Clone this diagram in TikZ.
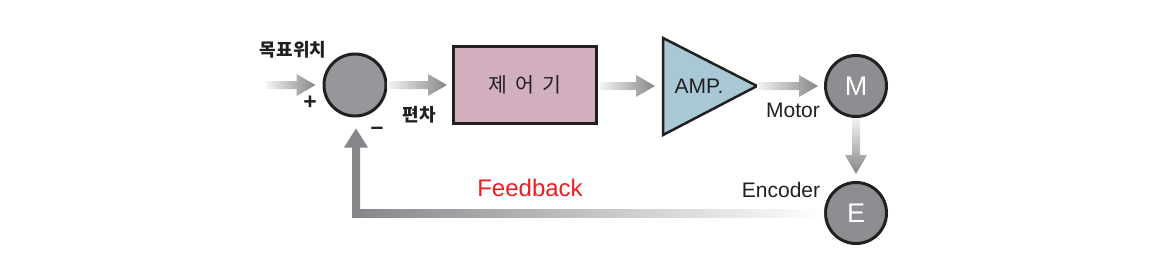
\documentclass[tikz,border=0pt]{standalone}
\usepackage{fontspec}
\setmainfont{Liberation Sans}
\newfontfamily\kr[WordSpace=1.8]{Noto Sans CJK KR}
\usetikzlibrary{calc}
\definecolor{textcol}{HTML}{231F20}
\definecolor{arrdark}{HTML}{86868A}
\definecolor{arrlight}{HTML}{F4F4F4}
\definecolor{sumfill}{HTML}{97979B}
\definecolor{mefill}{HTML}{8E8E92}
\definecolor{boxfill}{HTML}{D2AFBF}
\definecolor{ampfill}{HTML}{A7C8D4}
\definecolor{fbred}{HTML}{ED1C24}
\newcommand\harr[2]{%
  \shade[left color=arrlight,right color=arrdark] let \p1=(#1),\p2=(#2) in
  (\x1,\y1-4pt) -- (\x2-19pt,\y1-4pt) -- (\x2-19pt,\y1-11pt) -- (\x2,\y1)
  -- (\x2-19pt,\y1+11pt) -- (\x2-19pt,\y1+4pt) -- (\x1,\y1+4pt) -- cycle;}
\newcommand\varr[2]{%
  \shade[top color=arrlight,bottom color=arrdark] let \p1=(#1),\p2=(#2) in
  (\x1-4pt,\y1) -- (\x1-4pt,\y2+19pt) -- (\x1-11pt,\y2+19pt) -- (\x1,\y2)
  -- (\x1+11pt,\y2+19pt) -- (\x1+4pt,\y2+19pt) -- (\x1+4pt,\y1) -- cycle;}
\begin{document}
\begin{tikzpicture}[x=1pt,y=-1pt,
  every node/.style={text=textcol,inner sep=0pt},
  junction/.style={circle,draw=textcol,line width=3pt,fill=sumfill,minimum size=62pt},
  devc/.style={circle,draw=textcol,line width=3pt,fill=mefill,minimum size=61pt,
    text=white,font=\fontsize{27}{30}\selectfont},
  ctrlbox/.style={rectangle,draw=textcol,line width=3pt,fill=boxfill,
    minimum width=143pt,minimum height=77pt,font=\kr\fontsize{20.5}{24}\selectfont},
  lab/.style={font=\fontsize{21}{24}\selectfont},
  krlab/.style={font=\kr\bfseries\fontsize{18}{21}\selectfont},
  sign/.style={font=\bfseries\fontsize{23}{26}\selectfont}]
\useasboundingbox[fill=white] (0,0) rectangle (1150,271);

% nodes
\node[junction] (sum) at (355,85) {};
\node[ctrlbox] (ctrl) at (525,85) {제 어 기};
\coordinate (ampL) at (663,86);
\coordinate (ampT) at (757,86);
\draw[line width=2.5pt,draw=textcol,fill=ampfill,line join=miter]
  (663,38) -- (ampT) -- (663,135) -- cycle;
\node[lab] (amp) at (699,86) {AMP.};
\node[devc] (mot) at (856,86) {M};
\node[devc] (enc) at (856,213) {E};

% labels
\node[krlab] (target) at (293,50) {목표위치};
\node[krlab] (err) at (419,115) {편차};
\node[sign] (plus) at (310,103) {+};
\node[sign] (minus) at (377,131) {–};
\node[lab] (motlab) at (793,110) {Motor};
\node[lab] (enclab) at (781,190) {Encoder};
\node[font=\fontsize{24}{28}\selectfont,text=fbred] (fb) at (530,188) {Feedback};

% connectors
\coordinate (in) at (266,85);
\harr{in}{$(sum.west)+(-7,0)$}
\harr{sum.east}{$(ctrl.west)+(-5,0)$}
\harr{$(ctrl.east)+(2,1)$}{$(ampL)+(-8,0)$}
\harr{ampT}{$(mot.west)+(-6,0)$}
\varr{mot.south}{$(enc.north)+(0,-7)$}

% feedback path
\coordinate (fbcorner) at (356,213);
\coordinate (fbtip) at ($(sum.south)+(0,11)$);
\shade[left color=arrdark,right color=white] let \p1=(fbcorner),\p2=(enc.west) in
  (\x1-4pt,\y1-4pt) rectangle (\x2,\y1+4pt);
\fill[arrdark] let \p1=(fbcorner),\p2=(fbtip) in
  (\x1-4pt,\y1-4pt) -- (\x1-4pt,\y2-19pt) -- (\x1-12pt,\y2-19pt) -- (\x1,\y2)
  -- (\x1+12pt,\y2-19pt) -- (\x1+4pt,\y2-19pt) -- (\x1+4pt,\y1-4pt) -- cycle;
\end{tikzpicture}
\end{document}
